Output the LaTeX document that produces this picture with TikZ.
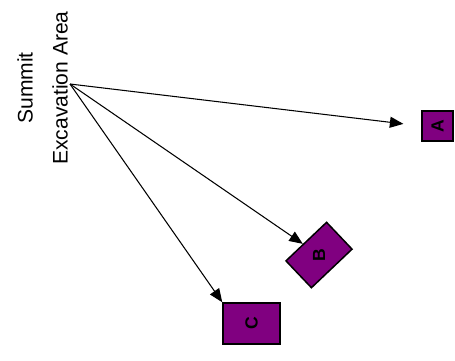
\documentclass[tikz,border=0pt]{standalone}
\usepackage{fontspec}
\setmainfont{Liberation Sans}
\usetikzlibrary{arrows.meta}
\definecolor{sitepurple}{RGB}{128,0,128}

\begin{document}
\begin{tikzpicture}[
    x=0.02cm, y=-0.02cm,
    site/.style={draw, line width=0.85pt, fill=sitepurple, inner sep=0pt,
                 font=\fontsize{10}{11}\selectfont\bfseries},
    lbl/.style={rotate=90, inner sep=0pt, font=\fontsize{12}{14}\selectfont},
    haul/.style={-{Triangle[length=0.27cm, width=0.22cm]}, line width=0.6pt}
]
\useasboundingbox (0,0) rectangle (455,360);
% source label
\node[lbl] (summit) at (25,88) {Summit};
\node[lbl] (excav) at (60,88) {Excavation Area};
\coordinate (src) at (70,84);
% sites
\node[site, minimum width=0.62cm, minimum height=0.6cm] (A) at (437.5,126) {\rotatebox{90}{A}};
\node[site, rotate=43.5, minimum width=1.12cm, minimum height=0.74cm] (B) at (319,255) {\rotatebox{46.5}{B}};
\node[site, minimum width=1.14cm, minimum height=0.82cm] (C) at (251.5,323.5) {\rotatebox{90}{C}};
% haul routes
\draw[haul, shorten >=0.36cm] (src) -- (A.west);
\draw[haul] (src) -- (B);
\draw[haul] (src) -- (C.north west);
\end{tikzpicture}
\end{document}
